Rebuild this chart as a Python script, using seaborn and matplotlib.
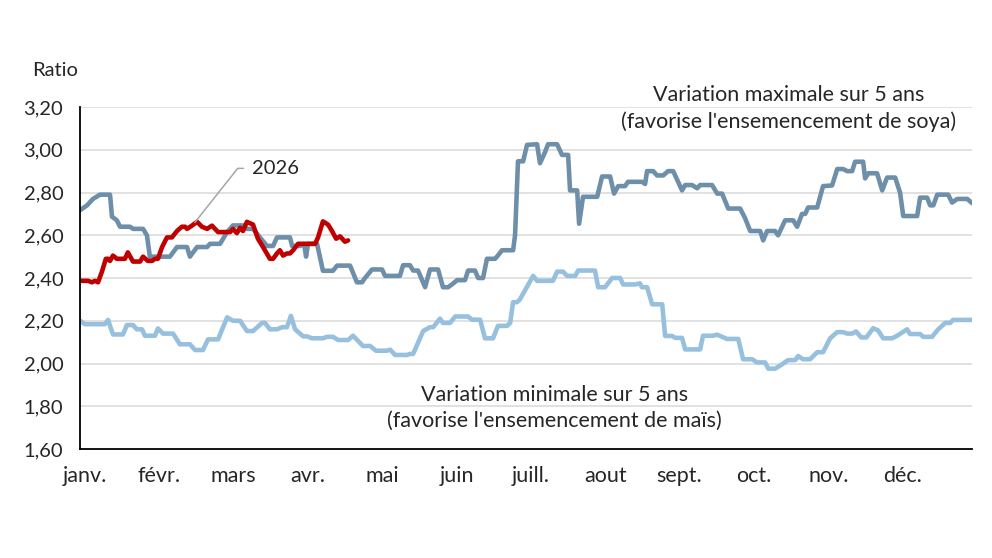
import numpy as np
import pandas as pd
import matplotlib
matplotlib.use("Agg")
import matplotlib.pyplot as plt
import seaborn as sns

# --- Data (day of year, ratio) ---
max_days = [0, 2.9, 5.3, 8.2, 12.3, 13.1, 15.1, 16.4, 20.5, 21.7, 25.8, 27.4, 28.6, 36.8,
            39.7, 43.8, 45.0, 47.9, 52.0, 53.2, 57.3, 60.2, 62.6, 66.7, 68.3, 70.8, 76.5,
            79.0, 80.6, 85.9, 86.8, 90.0, 91.7, 92.5, 93.3, 97.0, 99.4, 103.5, 105.2, 110.5,
            113.3, 115.4, 116.6, 119.5, 123.6, 124.8, 130.9, 132.2, 135.0, 136.3, 138.3,
            141.2, 143.2, 146.5, 148.5, 150.6, 152.2, 154.3, 157.5, 158.8, 161.6, 162.9,
            164.9, 166.5, 169.8, 170.6, 172.7, 177.2, 178.0, 179.2, 181.3, 182.9, 187.0,
            188.2, 190.3, 191.5, 195.2, 197.2, 199.7, 200.5, 203.4, 204.2, 205.8, 211.6,
            213.6, 216.9, 218.5, 220.2, 223.0, 224.2, 230.0, 231.2, 232.0, 234.5, 236.1,
            238.6, 240.6, 242.7, 246.3, 247.6, 250.4, 252.5, 253.7, 258.6, 260.7, 262.7,
            265.2, 270.1, 272.1, 274.2, 278.3, 279.5, 281.1, 284.4, 285.6, 288.5, 291.8,
            293.4, 295.4, 296.7, 297.9, 301.6, 304.0, 307.7, 309.8, 312.2, 313.9, 315.9,
            317.1, 320.4, 321.2, 322.5, 326.1, 328.2, 330.2, 333.5, 335.5, 336.8, 342.5,
            343.7, 346.6, 347.8, 349.1, 350.7, 355.2, 356.8, 358.9, 363.0, 365.0]
max_vals = [2.717, 2.74, 2.77, 2.79, 2.79, 2.687, 2.67, 2.64, 2.64, 2.63, 2.63, 2.60, 2.50, 2.50,
            2.545, 2.545, 2.50, 2.545, 2.545, 2.56, 2.56, 2.615, 2.646, 2.646, 2.63, 2.63, 2.55,
            2.55, 2.59, 2.59, 2.55, 2.55, 2.56, 2.50, 2.56, 2.56, 2.434, 2.434, 2.458, 2.458,
            2.38, 2.38, 2.40, 2.44, 2.44, 2.41, 2.41, 2.46, 2.46, 2.435, 2.435,
            2.357, 2.44, 2.44, 2.357, 2.357, 2.37, 2.39, 2.39, 2.435, 2.435, 2.40,
            2.40, 2.49, 2.49, 2.50, 2.53, 2.53, 2.60, 2.946, 2.946, 3.023, 3.026,
            2.937, 2.99, 3.026, 3.026, 2.976, 2.976, 2.81, 2.81, 2.654, 2.78, 2.78,
            2.875, 2.875, 2.795, 2.83, 2.83, 2.85, 2.85, 2.84, 2.90, 2.90, 2.88,
            2.88, 2.90, 2.90, 2.81, 2.835, 2.835, 2.82, 2.835, 2.835, 2.795, 2.795,
            2.725, 2.725, 2.68, 2.62, 2.62, 2.576, 2.62, 2.62, 2.60, 2.67, 2.67,
            2.64, 2.70, 2.70, 2.73, 2.73, 2.83, 2.833, 2.91, 2.91, 2.90, 2.90,
            2.944, 2.944, 2.866, 2.89, 2.89, 2.81, 2.87, 2.87, 2.80, 2.69, 2.69,
            2.776, 2.776, 2.74, 2.74, 2.79, 2.79, 2.753, 2.77, 2.77, 2.75]

min_days = [0, 2.0, 10.2, 11.5, 13.5, 17.6, 19.2, 21.7, 23.3, 25.4, 26.6, 30.7, 31.9, 34.0,
            38.1, 40.9, 45.0, 47.1, 50.3, 52.4, 56.5, 60.2, 62.6, 65.5, 68.3, 70.8, 74.5,
            75.7, 77.7, 80.6, 82.7, 84.7, 86.3, 88.0, 91.3, 92.9, 94.9, 99.4, 101.1, 103.5,
            105.6, 109.7, 111.7, 115.8, 118.7, 121.1, 125.6, 126.9, 128.9, 133.8, 135.0,
            136.3, 140.4, 143.2, 144.5, 147.3, 148.5, 151.4, 153.5, 158.8, 160.4, 163.7,
            165.7, 169.0, 171.0, 174.7, 176.0, 177.2, 178.8, 180.0, 185.4, 187.0, 193.5,
            195.2, 197.6, 199.3, 202.6, 203.8, 210.7, 212.0, 214.8, 217.7, 221.0, 222.2,
            227.1, 229.1, 229.9, 232.0, 234.1, 238.2, 239.4, 242.2, 243.5, 246.3, 247.6,
            253.7, 254.9, 259.0, 260.7, 264.7, 269.3, 271.3, 275.0, 277.0, 280.3, 281.6,
            284.4, 286.4, 289.7, 292.6, 293.8, 295.8, 298.7, 301.6, 304.0, 306.9, 309.8,
            312.2, 313.9, 315.9, 317.5, 319.6, 321.7, 324.5, 326.5, 328.6, 332.3, 334.3,
            338.4, 339.6, 343.7, 345.0, 348.6, 351.1, 354.0, 356.0, 357.2, 365.0]
min_vals = [2.20, 2.184, 2.184, 2.204, 2.136, 2.136, 2.18, 2.18, 2.16, 2.16, 2.13, 2.13, 2.164, 2.14,
            2.14, 2.09, 2.09, 2.063, 2.063, 2.113, 2.113, 2.216, 2.20, 2.20, 2.152, 2.152, 2.19,
            2.19, 2.16, 2.16, 2.17, 2.17, 2.223, 2.16, 2.127, 2.127, 2.118, 2.118, 2.125, 2.125,
            2.11, 2.11, 2.13, 2.082, 2.082, 2.06, 2.06, 2.065, 2.04, 2.04, 2.045,
            2.045, 2.152, 2.17, 2.17, 2.21, 2.19, 2.19, 2.22, 2.22, 2.205, 2.205,
            2.118, 2.118, 2.176, 2.176, 2.19, 2.287, 2.287, 2.30, 2.41, 2.387, 2.387,
            2.43, 2.43, 2.41, 2.41, 2.435, 2.435, 2.357, 2.357, 2.40, 2.40, 2.37,
            2.37, 2.375, 2.357, 2.357, 2.277, 2.277, 2.129, 2.129, 2.12, 2.12, 2.066,
            2.066, 2.13, 2.13, 2.135, 2.115, 2.115, 2.02, 2.02, 2.005, 2.005, 1.976,
            1.976, 1.99, 2.016, 2.016, 2.035, 2.02, 2.02, 2.053, 2.053, 2.118, 2.147,
            2.147, 2.14, 2.14, 2.15, 2.122, 2.122, 2.165, 2.155, 2.118, 2.118, 2.13,
            2.16, 2.138, 2.138, 2.125, 2.125, 2.16, 2.19, 2.19, 2.204, 2.204]

y2026_days = [0, 3.3, 4.9, 6.1, 7.4, 9.0, 10.6, 11.5, 12.3, 13.5, 15.1, 18.4, 19.6, 21.7, 24.6,
              25.8, 27.8, 29.5, 30.7, 31.9, 33.6, 35.6, 37.6, 39.7, 41.7, 43.0, 43.8, 45.8,
              47.9, 49.9, 52.0, 54.0, 56.5, 61.4, 62.6, 64.2, 65.5, 66.7, 68.3, 70.8, 72.8,
              74.9, 77.7, 79.0, 80.6, 81.8, 83.1, 84.7, 85.9, 87.2, 89.2, 96.2, 97.4, 99.4,
              101.5, 103.1, 104.8, 106.4, 108.4, 109.7]
y2026_vals = [2.387, 2.387, 2.38, 2.387, 2.38, 2.43, 2.49, 2.49, 2.48, 2.505, 2.49, 2.49, 2.52,
              2.477, 2.477, 2.50, 2.48, 2.48, 2.49, 2.49, 2.545, 2.59, 2.59, 2.62, 2.64, 2.64,
              2.63, 2.645, 2.663, 2.64, 2.63, 2.645, 2.615, 2.615, 2.63, 2.61, 2.635, 2.62,
              2.663, 2.65, 2.584, 2.545, 2.49, 2.49, 2.515, 2.53, 2.505, 2.515, 2.515, 2.53,
              2.56, 2.56, 2.59, 2.665, 2.65, 2.62, 2.584, 2.595, 2.57, 2.576]

months = ["janv.", "févr.", "mars", "avr.", "mai", "juin", "juill.", "aout", "sept.",
          "oct.", "nov.", "déc."]
y_ticks = [1.60, 1.80, 2.00, 2.20, 2.40, 2.60, 2.80, 3.00, 3.20]

# --- Style ---
sns.set_theme(style="white")
plt.rcParams['font.family'] = ['Lato', 'DejaVu Sans']

COL_MAX = '#6e8fa9'
COL_MIN = '#97c0de'
COL_2026 = '#c00000'
FS = 14.5
FS_BIG = 15.5

df_max = pd.DataFrame({'day': max_days, 'ratio': max_vals})
df_min = pd.DataFrame({'day': min_days, 'ratio': min_vals})
df_2026 = pd.DataFrame({'day': y2026_days, 'ratio': y2026_vals})

fig = plt.figure(figsize=(9.92, 5.58), dpi=100)
ax = fig.add_axes([0.0806, 0.1953, 0.8994, 0.6129])

for y in y_ticks[1:]:
    ax.axhline(y, color='#d9d9d9', lw=1.1, zorder=0)

for df, col in [(df_min, COL_MIN), (df_max, COL_MAX), (df_2026, COL_2026)]:
    sns.lineplot(data=df, x='day', y='ratio', ax=ax, color=col, lw=3.3,
                 estimator=None, sort=False, solid_joinstyle='round')

ax.set_xlim(0, 365)
ax.set_ylim(1.60, 3.20)
ax.set_yticks(y_ticks)
ax.set_yticklabels([f"{v:.2f}".replace('.', ',') for v in y_ticks])
ax.set_xticks([365 / 12 * i + 2 for i in range(12)])
ax.set_xticklabels(months)
ax.tick_params(axis='y', length=0, pad=12, labelsize=FS)
ax.tick_params(axis='x', length=0, pad=12, labelsize=FS_BIG)
ax.set_xlabel('')
ax.set_ylabel('')

for side in ['top', 'right']:
    ax.spines[side].set_visible(False)
for side in ['left', 'bottom']:
    ax.spines[side].set_color('black')
    ax.spines[side].set_linewidth(1.3)

fig.text(0.032, 0.874, 'Ratio', fontsize=FS, va='center', ha='left')

ax.text(290, 3.256, "Variation maximale sur 5 ans", fontsize=FS_BIG, ha='center', va='center')
ax.text(290, 3.13, "(favorise l'ensemencement de soya)", fontsize=FS_BIG, ha='center', va='center')
ax.text(194, 1.854, "Variation minimale sur 5 ans", fontsize=FS_BIG, ha='center', va='center')
ax.text(194, 1.732, "(favorise l'ensemencement de maïs)", fontsize=FS_BIG, ha='center', va='center')

ax.annotate('2026', xy=(47, 2.66), xytext=(70.5, 2.913), fontsize=FS, ha='left', va='center',
            arrowprops=dict(arrowstyle='-', color='#a6a6a6', lw=1.1, relpos=(0, 0.5),
                            shrinkA=4, shrinkB=0,
                            connectionstyle='angle,angleA=0,angleB=51.6,rad=0'))

fig.savefig('out.png', dpi=100)
